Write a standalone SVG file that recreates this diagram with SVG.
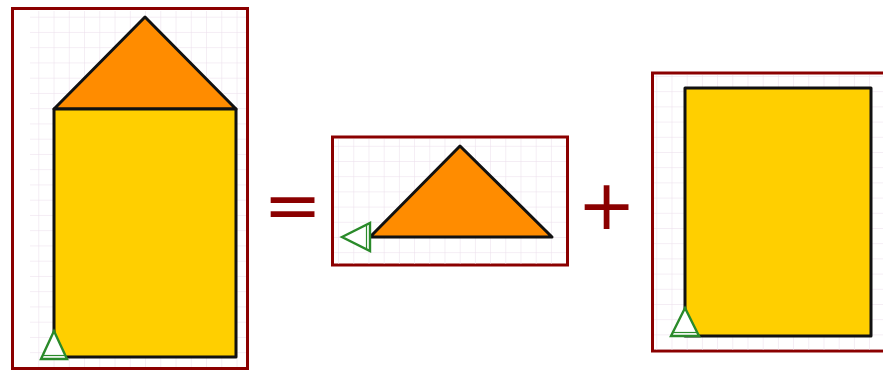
<svg xmlns="http://www.w3.org/2000/svg" width="883" height="372" viewBox="0 0 883 372">
<style>
.frame{fill:#fff;stroke:#8b0000;stroke-width:3}
.shape{stroke:#111;stroke-width:3;stroke-linejoin:round}
.tri{fill:#ff8c00}
.box{fill:#ffcf00}
.mark{fill:#fff;stroke:#2a8a2a;stroke-width:2.4;stroke-linejoin:miter}
.markin{fill:none;stroke:#2a8a2a;stroke-width:1.2}
.op{font-family:"DejaVu Sans",sans-serif;font-size:70px;fill:#8b0000;text-anchor:middle}
</style>
<defs>
<pattern id="g1" patternUnits="userSpaceOnUse" x="38.3" y="16.7" width="15.25" height="15.25">
<path d="M0 0H15.25M0 0V15.25" fill="none" stroke="#eadcea" stroke-width="1"/>
</pattern>
<pattern id="g2" patternUnits="userSpaceOnUse" x="353.3" y="221.8" width="15.2" height="15.2">
<path d="M0 0H15.2M0 0V15.2" fill="none" stroke="#eadcea" stroke-width="1"/>
</pattern>
<pattern id="g3" patternUnits="userSpaceOnUse" x="671.5" y="76" width="15.2" height="15.2">
<path d="M0 0H15.2M0 0V15.2" fill="none" stroke="#eadcea" stroke-width="1"/>
</pattern>
</defs>
<g id="panel-house">
<rect class="frame" x="12.5" y="8.5" width="235" height="360"/>
<rect x="30" y="11" width="216" height="356" fill="url(#g1)"/>
<polygon class="shape tri" points="145,17 54,109 236,109"/>
<rect class="shape box" x="54" y="109" width="182" height="248"/>
<polygon class="mark" points="54,331 41,359 67,359"/>
<line class="markin" x1="43" y1="355.5" x2="65" y2="355.5"/>
</g>
<g id="equals"><text class="op" x="292.5" y="229">=</text></g>
<g id="panel-triangle">
<rect class="frame" x="332.5" y="137" width="235" height="128"/>
<rect x="334" y="139" width="232" height="125" fill="url(#g2)"/>
<polygon class="shape tri" points="460,146 370,237 552,237"/>
<polygon class="mark" points="342,237 370,223 370,251"/>
<line class="markin" x1="366.5" y1="225" x2="366.5" y2="249"/>
</g>
<g id="plus"><text class="op" x="606.5" y="229">+</text></g>
<g id="panel-rectangle">
<rect class="frame" x="652.5" y="73" width="240" height="278"/>
<rect x="654" y="75" width="229" height="275" fill="url(#g3)"/>
<rect class="shape box" x="685" y="88" width="186" height="248"/>
<polygon class="mark" points="685,308 671,336 699,336"/>
<line class="markin" x1="673" y1="332.5" x2="697" y2="332.5"/>
</g>
</svg>
